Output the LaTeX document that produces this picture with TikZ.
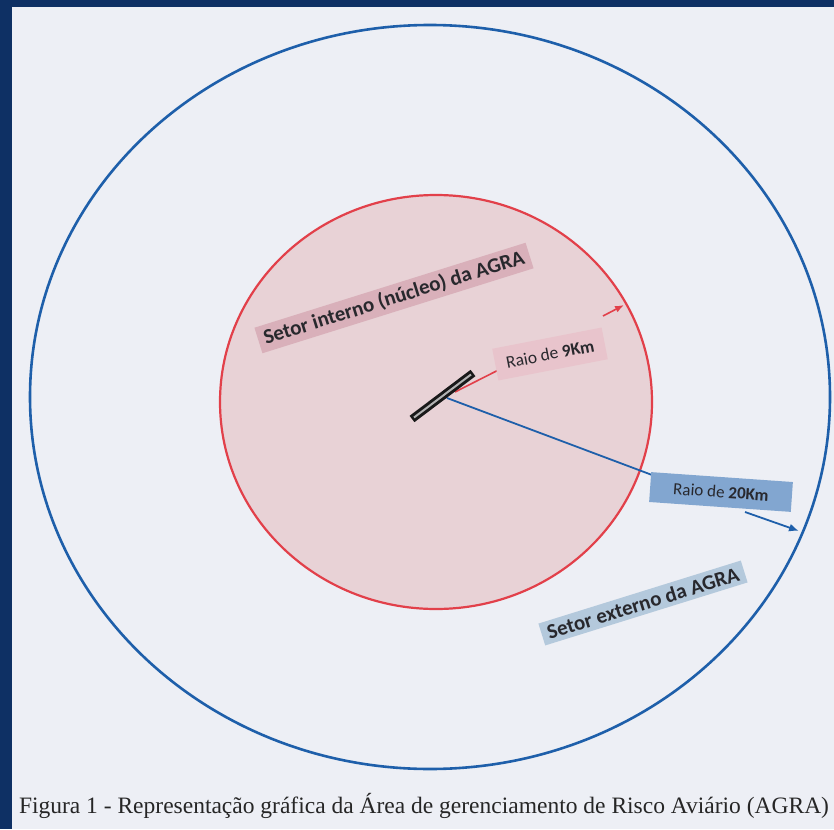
\documentclass[tikz,border=0pt]{standalone}
\usepackage{fontspec}
\setmainfont{Liberation Serif}
\newfontfamily\lblfont{Carlito}
\usetikzlibrary{arrows.meta}
\definecolor{navy}{RGB}{14,48,100}
\definecolor{panel}{RGB}{237,239,245}
\definecolor{outerblue}{RGB}{30,95,170}
\definecolor{innerred}{RGB}{226,64,74}
\definecolor{innerfill}{RGB}{232,210,214}
\definecolor{pinkbox}{RGB}{217,176,186}
\definecolor{pinkbox2}{RGB}{232,196,204}
\definecolor{bluebox}{RGB}{130,166,208}
\definecolor{greybox}{RGB}{180,201,220}
\definecolor{ink}{RGB}{40,40,45}
\tikzset{
  lbl/.style={inner xsep=6pt, inner ysep=4pt, text=ink},
  bluearrow/.style={draw=outerblue, line width=1.8pt},
  redarrow/.style={draw=innerred, line width=1.6pt}
}
\begin{document}
\begin{tikzpicture}[x=1pt,y=-1pt]
\useasboundingbox (0,0) rectangle (834,829);
\fill[navy] (0,0) rectangle (834,829);
\fill[panel] (12,7) rectangle (834,829);
% circles
\draw[outerblue, line width=2.6pt] (430,397) ellipse [x radius=400, y radius=372];
\draw[innerred, fill=innerfill, line width=2.2pt] (436,402) ellipse [x radius=216, y radius=207];
% key points
\coordinate (ctr) at (447,398);
\coordinate (redstart) at (455,392);
\coordinate (redtip) at (624,305);
\coordinate (bluetip) at (799,531);
% radius lines (under labels)
\draw[bluearrow] (ctr) -- (700,493);
\draw[redarrow] (redstart) -- (530,354);
% runway
\draw[black!90, line width=8pt] (412,419) -- (473,373);
\draw[gray!60, line width=2pt] (414,417.5) -- (471,374.5);
% labels
\node[lbl, fill=pinkbox, rotate=17.4, font=\lblfont\bfseries\fontsize{21}{24}\selectfont] (interno) at (394,298) {Setor interno (núcleo) da AGRA};
\node[lbl, fill=pinkbox2, rotate=11, font=\lblfont\fontsize{17.5}{20}\selectfont, inner xsep=11pt, inner ysep=10pt] (r9) at (550,354) {Raio de \textbf{9Km}};
\node[lbl, fill=bluebox, rotate=-4, font=\lblfont\fontsize{17}{20}\selectfont, inner ysep=9pt, minimum width=142pt] (r20) at (721,492) {Raio de \textbf{20Km}};
\node[lbl, fill=greybox, rotate=17.3, font=\lblfont\bfseries\fontsize{21}{24}\selectfont] (externo) at (643,603) {Setor externo da AGRA};
% arrow heads beyond labels
\draw[redarrow, -{Latex[length=9pt,width=7pt]}] (603,316) -- (redtip);
\draw[bluearrow, -{Latex[length=10pt,width=8pt]}] (745,512) -- (bluetip);
% caption
\node[text=black!85, font=\fontsize{23.5}{26}\selectfont, inner sep=0pt] (cap) at (424,806) {Figura 1 - Representação gráfica da Área de gerenciamento de Risco Aviário (AGRA)};
\end{tikzpicture}
\end{document}
